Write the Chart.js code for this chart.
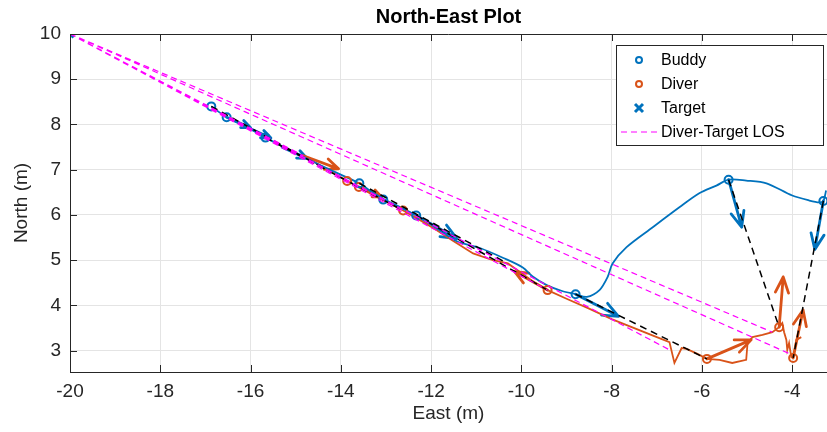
<!DOCTYPE html>
<html>
<head>
<meta charset="utf-8">
<script src="https://cdn.jsdelivr.net/npm/chart.js@4.4.1/dist/chart.umd.min.js"></script>
<style>
  html, body { margin: 0; padding: 0; background: #fff; }
  #wrap { width: 827px; height: 432px; }
</style>
</head>
<body>
<div id="wrap"><canvas id="nePlot" width="827" height="432"></canvas></div>
<script>
// Axis ticks
const xTicks = [-20, -18, -16, -14, -12, -10, -8, -6, -4];
const yTicks = [3, 4, 5, 6, 7, 8, 9, 10];

// Buddy track (East, North)
const buddyPathX = [-16.87, -16.53, -16.1, -15.67, -15.2, -14.7, -14.2, -13.59, -13.3, -13.06, -12.7, -12.33, -11.9, -11.43, -10.92, -10.4, -9.97, -9.75, -9.44, -9.1, -8.8, -8.55, -8.27, -8.09, -7.98, -7.67, -7.09, -6.5, -6.06, -5.68, -5.41, -5.02, -4.57, -4.0, -3.62, -3.4, -3.31, -3.25];
const buddyPathY = [8.40, 8.16, 7.95, 7.71, 7.47, 7.22, 6.98, 6.70, 6.50, 6.36, 6.18, 5.99, 5.72, 5.42, 5.27, 5.05, 4.84, 4.64, 4.45, 4.32, 4.25, 4.19, 4.34, 4.63, 4.93, 5.29, 5.73, 6.17, 6.48, 6.65, 6.78, 6.76, 6.70, 6.43, 6.32, 6.28, 6.31, 6.54];

// Diver track
const diverPathX = [-14.83, -14.5, -14.2, -13.86, -13.6, -13.3, -12.95, -12.62, -12.3, -11.9, -11.5, -11.07, -10.63, -10.3, -10.0, -9.7, -9.42, -9.0, -8.5, -8.0, -7.5, -7.0, -6.72, -6.61, -6.45, -6.34, -6.1, -5.89, -5.61, -5.33, -5.02, -4.99, -4.88, -4.66, -4.44, -4.29, -4.22, -4.18, -4.13, -4.11, -4.07, -4.02, -3.98, -3.91, -3.8];
const diverPathY = [7.31, 7.12, 6.95, 6.75, 6.62, 6.45, 6.27, 6.10, 5.92, 5.68, 5.42, 5.15, 5.00, 4.93, 4.72, 4.50, 4.34, 4.15, 3.93, 3.70, 3.50, 3.30, 3.19, 2.73, 3.06, 3.04, 2.93, 2.82, 2.80, 2.73, 2.80, 3.17, 3.30, 3.35, 3.41, 3.52, 3.61, 3.41, 3.24, 3.02, 3.17, 2.86, 2.84, 3.24, 3.30];

// Sample markers
const buddyMarkX = [-16.87, -16.53, -15.67, -13.59, -13.06, -12.33, -8.8, -5.41, -3.31];
const buddyMarkY = [8.40, 8.16, 7.71, 6.70, 6.34, 5.99, 4.25, 6.78, 6.31];
const diverMarkX = [-13.86, -13.6, -12.62, -9.42, -5.89, -4.29, -3.98];
const diverMarkY = [6.75, 6.62, 6.10, 4.34, 2.82, 3.52, 2.84];
const targetX = [-20];
const targetY = [10];

// Diver-Target line of sight end points
const losEndX = [-14.83, -12.62, -9.42, -6.72, -4.44, -4.05];
const losEndY = [7.31, 6.10, 4.34, 3.02, 3.41, 2.93];

// Buddy -> diver links (black dashed)
const linkFromX = [-16.87, -15.67, -13.59, -12.33, -8.8, -5.41, -3.31];
const linkFromY = [8.40, 7.71, 6.70, 5.99, 4.25, 6.78, 6.31];
const linkToX = [-13.86, -12.62, -10.4, -9.42, -5.89, -4.29, -3.98];
const linkToY = [6.75, 6.10, 4.98, 4.34, 2.82, 3.52, 2.84];

// Heading arrows (tail -> tip)
const buddyArrowX0 = [-16.53, -16.1, -15.3, -12.33, -8.8, -5.41, -3.31];
const buddyArrowY0 = [8.16, 7.95, 7.50, 5.99, 4.25, 6.78, 6.31];
const buddyArrowX1 = [-16.0, -15.55, -14.75, -11.43, -7.85, -5.12, -3.5];
const buddyArrowY1 = [7.93, 7.70, 7.25, 5.48, 3.76, 5.73, 5.24];
const diverArrowX0 = [-14.83, -13.6, -9.42, -5.89, -4.29, -3.98];
const diverArrowY0 = [7.31, 6.62, 4.34, 2.82, 3.52, 2.84];
const diverArrowX1 = [-14.05, -13.1, -10.15, -4.91, -4.2, -3.76];
const diverArrowY1 = [7.02, 6.40, 4.75, 3.24, 4.63, 3.90];

const BLUE = '#0072BD';
const ORANGE = '#D95319';
const MAGENTA = '#FF00FF';
const AXIS = '#262626';
const FONT = "'Liberation Sans', Arial, sans-serif";

function pts(xs, ys) {
  return xs.map((x, i) => ({ x: x, y: ys[i] }));
}
function segments(x0, y0, x1, y1) {
  const out = [];
  x0.forEach((x, i) => {
    out.push({ x: x, y: y0[i] }, { x: x1[i], y: y1[i] }, { x: x1[i], y: null });
  });
  return out;
}

const losData = segments(losEndX.map(() => targetX[0]), losEndY.map(() => targetY[0]), losEndX, losEndY);
const linkData = segments(linkFromX, linkFromY, linkToX, linkToY);

// quiver style arrows, drawn through the scales
const arrowPlugin = {
  id: 'arrows',
  beforeDatasetsDraw(chart) {
    const ctx = chart.ctx, xs = chart.scales.x, ys = chart.scales.y;
    const draw = (X0, Y0, X1, Y1, color) => {
      ctx.save();
      ctx.beginPath();
      ctx.rect(chart.chartArea.left, chart.chartArea.top, chart.chartArea.width, chart.chartArea.height);
      ctx.clip();
      ctx.strokeStyle = color;
      ctx.lineWidth = 2.8;
      ctx.lineCap = 'round';
      ctx.lineJoin = 'round';
      X0.forEach((x, i) => {
        const px0 = xs.getPixelForValue(x), py0 = ys.getPixelForValue(Y0[i]);
        const px1 = xs.getPixelForValue(X1[i]), py1 = ys.getPixelForValue(Y1[i]);
        const ang = Math.atan2(py1 - py0, px1 - px0);
        const len = Math.hypot(px1 - px0, py1 - py0);
        const h = Math.min(17, len * 0.38);
        ctx.beginPath();
        ctx.moveTo(px0, py0);
        ctx.lineTo(px1, py1);
        ctx.moveTo(px1 - h * Math.cos(ang - 0.4), py1 - h * Math.sin(ang - 0.4));
        ctx.lineTo(px1, py1);
        ctx.lineTo(px1 - h * Math.cos(ang + 0.4), py1 - h * Math.sin(ang + 0.4));
        ctx.stroke();
      });
      ctx.restore();
    };
    draw(buddyArrowX0, buddyArrowY0, buddyArrowX1, buddyArrowY1, BLUE);
    draw(diverArrowX0, diverArrowY0, diverArrowX1, diverArrowY1, ORANGE);
  }
};

// box, inner ticks and legend
const framePlugin = {
  id: 'frame',
  afterDraw(chart) {
    const ctx = chart.ctx, a = chart.chartArea;
    const xs = chart.scales.x, ys = chart.scales.y;
    ctx.save();
    ctx.strokeStyle = AXIS;
    ctx.lineWidth = 1;
    ctx.beginPath();
    ctx.moveTo(a.left, a.top + 0.5);
    ctx.lineTo(a.right, a.top + 0.5);
    xTicks.forEach(v => {
      const p = Math.round(xs.getPixelForValue(v)) + 0.5;
      ctx.moveTo(p, a.bottom); ctx.lineTo(p, a.bottom - 7);
      ctx.moveTo(p, a.top); ctx.lineTo(p, a.top + 7);
    });
    yTicks.forEach(v => {
      const p = Math.round(ys.getPixelForValue(v)) + 0.5;
      ctx.moveTo(a.left, p); ctx.lineTo(a.left + 7, p);
    });
    ctx.stroke();

    // legend
    const lx = 616, ly = 45, lw = 207, lh = 100;
    ctx.fillStyle = '#fff';
    ctx.fillRect(lx, ly, lw, lh);
    ctx.strokeStyle = AXIS;
    ctx.strokeRect(lx + 0.5, ly + 0.5, lw, lh);
    const rows = [
      { label: 'Buddy', kind: 'circle', color: BLUE },
      { label: 'Diver', kind: 'circle', color: ORANGE },
      { label: 'Target', kind: 'cross', color: BLUE },
      { label: 'Diver-Target LOS', kind: 'dash', color: MAGENTA }
    ];
    ctx.font = '16px ' + FONT;
    ctx.textBaseline = 'middle';
    rows.forEach((r, i) => {
      const y = 60 + i * 24;
      const mx = 639;
      ctx.strokeStyle = r.color;
      if (r.kind === 'circle') {
        ctx.lineWidth = 2;
        ctx.beginPath(); ctx.arc(mx, y, 3, 0, Math.PI * 2); ctx.stroke();
      } else if (r.kind === 'cross') {
        ctx.lineWidth = 3;
        ctx.beginPath();
        ctx.moveTo(mx - 4, y - 4); ctx.lineTo(mx + 4, y + 4);
        ctx.moveTo(mx + 4, y - 4); ctx.lineTo(mx - 4, y + 4);
        ctx.stroke();
      } else {
        ctx.lineWidth = 1;
        ctx.setLineDash([6, 4]);
        ctx.beginPath(); ctx.moveTo(621, y); ctx.lineTo(657, y); ctx.stroke();
        ctx.setLineDash([]);
      }
      ctx.fillStyle = '#000';
      ctx.fillText(r.label, 661, y + 1);
    });
    ctx.restore();
  }
};

new Chart(document.getElementById('nePlot'), {
  type: 'scatter',
  data: {
    datasets: [
      { label: 'Diver-Target LOS', data: losData, showLine: true, borderColor: MAGENTA, borderWidth: 1.2, borderDash: [6, 4], pointRadius: 0, spanGaps: false },
      { label: 'link', data: linkData, showLine: true, borderColor: '#000', borderWidth: 1.5, borderDash: [7, 5], pointRadius: 0, spanGaps: false },
      { label: 'Target', data: pts(targetX, targetY), pointStyle: 'crossRot', pointRadius: 5, borderColor: BLUE, borderWidth: 3 },
      { label: 'Buddy', data: pts(buddyMarkX, buddyMarkY), pointStyle: 'circle', pointRadius: 4, borderColor: BLUE, backgroundColor: 'rgba(0,0,0,0)', borderWidth: 2 },
      { label: 'Diver', data: pts(diverMarkX, diverMarkY), pointStyle: 'circle', pointRadius: 4, borderColor: ORANGE, backgroundColor: 'rgba(0,0,0,0)', borderWidth: 2 },
      { label: 'buddy track', data: pts(buddyPathX, buddyPathY), showLine: true, borderColor: BLUE, borderWidth: 1.8, pointRadius: 0, tension: 0.3 },
      { label: 'diver track', data: pts(diverPathX, diverPathY), showLine: true, borderColor: ORANGE, borderWidth: 1.8, pointRadius: 0, tension: 0 }
    ]
  },
  options: {
    responsive: false,
    animation: false,
    clip: { left: 0, top: 0, right: 0, bottom: 0 },
    layout: { autoPadding: false, padding: { left: 0, right: 0, top: 0, bottom: 0 } },
    plugins: {
      legend: { display: false },
      tooltip: { enabled: false },
      title: {
        display: true,
        text: 'North-East Plot',
        fullSize: false,
        color: '#000',
        font: { family: FONT, size: 20, weight: 'bold', lineHeight: 1.2 },
        padding: { top: 5, bottom: 5 }
      }
    },
    scales: {
      x: {
        type: 'linear',
        min: -20,
        max: -3.23,
        afterBuildTicks: s => { s.ticks = xTicks.map(v => ({ value: v })); },
        afterFit: s => { s.height = 60; },
        grid: { color: '#e4e4e4', drawTicks: false },
        border: { color: AXIS, width: 1 },
        ticks: { color: AXIS, padding: 8, font: { family: FONT, size: 19 }, maxRotation: 0 },
        title: { display: true, text: 'East (m)', color: AXIS, font: { family: FONT, size: 19 }, padding: { top: 0, bottom: 7 } }
      },
      y: {
        type: 'linear',
        min: 2.53,
        max: 10,
        afterBuildTicks: s => { s.ticks = yTicks.map(v => ({ value: v })); },
        afterFit: s => { s.width = 70; },
        grid: { color: '#e4e4e4', drawTicks: false },
        border: { color: AXIS, width: 1 },
        ticks: { color: AXIS, padding: 9, font: { family: FONT, size: 19 } },
        title: { display: true, text: 'North (m)', color: AXIS, font: { family: FONT, size: 19 }, padding: { top: 10, bottom: 0 } }
      }
    }
  },
  plugins: [arrowPlugin, framePlugin]
});
</script>
</body>
</html>
